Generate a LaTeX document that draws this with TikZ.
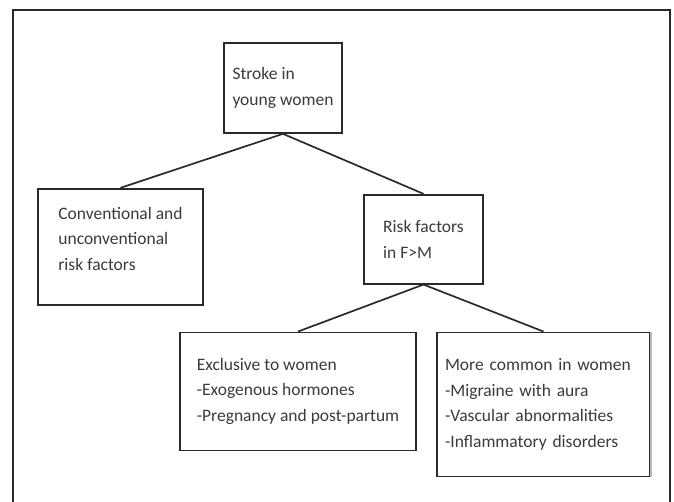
\documentclass[tikz,border=0pt]{standalone}
\usepackage{fontspec}
\setmainfont{Carlito}
\usepackage{tikz}
\usetikzlibrary{positioning}
\definecolor{EdgeGray}{HTML}{2A2A2A}
\definecolor{TextGray}{HTML}{3A3A3A}
\definecolor{FadeGray}{HTML}{BBBBBB}

\begin{document}
\begin{tikzpicture}[x=1pt,y=1pt,
box/.style={draw=EdgeGray,line width=1.7pt,align=left,inner sep=0pt,text=TextGray,
  font=\fontsize{17.5}{25.5}\selectfont},
link/.style={draw=EdgeGray,line width=1.7pt}]
\useasboundingbox (0,0) rectangle (674,-502);
\draw[EdgeGray,line width=1.4pt] (13,-502) -- (13,-10) -- (670,-10) -- (670,-502);
\node[box,minimum width=118pt,minimum height=90pt] (stroke) at (283,-88) {Stroke in\\young women};
\node[box,minimum width=165pt,minimum height=116pt,below=54pt of stroke,xshift=-162.5pt] (conv)
  {\begin{tabular}{@{}l@{}}Conventional and\\unconventional\\risk factors\\[14pt]\end{tabular}};
\node[box,minimum width=119pt,minimum height=89pt,below=60pt of stroke,xshift=140.5pt] (risk) {Risk factors\\in F>M};
\node[box,minimum width=236pt,minimum height=118pt,below=47pt of risk,xshift=-125.5pt] (excl) {Exclusive to women\\-Exogenous hormones\\-Pregnancy and post-partum};
\node[box,inner xsep=8pt,text width=197pt,minimum height=144pt,below=47pt of risk,xshift=120pt] (more) {More common in women\\-Migraine with aura\\-Vascular abnormalities\\-Inflammatory disorders};
\draw[FadeGray,line width=1.7pt] (more.north east) -- (more.south east);
\draw[link] (stroke.south) -- (conv.north);
\draw[link] (stroke.south) -- (risk.north);
\draw[link] (risk.south) -- (excl.north);
\draw[link] (risk.south) -- (more.north);
\end{tikzpicture}
\end{document}
